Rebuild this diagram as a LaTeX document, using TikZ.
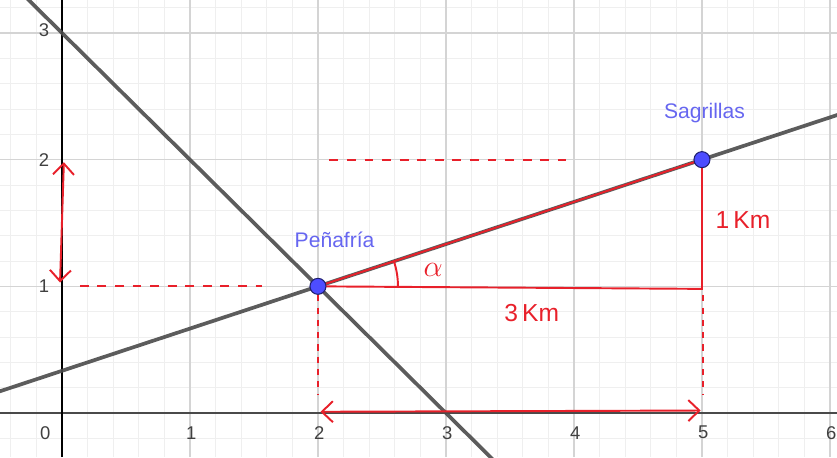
\documentclass[tikz,border=0pt]{standalone}
\usepackage{fontspec}
\setmainfont{Liberation Sans}
\usetikzlibrary{arrows.meta}
\definecolor{gridmaj}{HTML}{D4D4D4}
\definecolor{gridmin}{HTML}{EFEFEF}
\definecolor{lineg}{HTML}{4A4A4A}
\definecolor{hand}{HTML}{E8202A}
\definecolor{ptfill}{HTML}{4D4DFF}
\definecolor{ptdraw}{HTML}{202070}
\definecolor{lbl}{HTML}{6666F0}
\tikzset{
  minorgrid/.style={gridmin, line width=0.5pt},
  majorgrid/.style={gridmaj, line width=0.9pt},
  geoline/.style={lineg, line width=2.1pt, opacity=0.9},
  pt/.style={circle, fill=ptfill, draw=ptdraw, line width=0.6pt, minimum size=0.32cm, inner sep=0pt},
  ptlabel/.style={text=lbl, font=\fontsize{12}{14}\selectfont},
  tick/.style={text=black!75, font=\fontsize{10.5}{12}\selectfont},
  redline/.style={hand, line width=1.1pt, line cap=round},
  reddash/.style={hand, line width=1pt, dash pattern=on 5pt off 5pt},
  vdash/.style={hand, line width=1pt, dash pattern=on 3.5pt off 3.5pt},
  redarrow/.style={hand, line width=1.1pt, {Straight Barb[length=2.2mm,width=4.2mm]}-{Straight Barb[length=2.2mm,width=4.2mm]}},
  handtext/.style={text=hand, font=\fontsize{14}{16}\selectfont}
}
\begin{document}
\begin{tikzpicture}[x=2.56cm, y=2.534cm]
\useasboundingbox (-0.484,-0.347) rectangle (6.055,3.26);
\begin{scope}
\clip (-0.484,-0.347) rectangle (6.055,3.26);
% minor grid
\foreach \i in {-2,...,30} { \draw[minorgrid] (\i*0.2,-0.347) -- (\i*0.2,3.26); }
\foreach \j in {-1,...,16} { \draw[minorgrid] (-0.484,\j*0.2) -- (6.055,\j*0.2); }
% major grid
\foreach \i in {1,...,6} { \draw[majorgrid] (\i,-0.347) -- (\i,3.26); }
\foreach \j in {1,2,3} { \draw[majorgrid] (-0.484,\j) -- (6.055,\j); }
% axes
\coordinate (xl) at (-0.484,0); \coordinate (xr) at (6.055,0);
\coordinate (yb) at (0,-0.347); \coordinate (yt) at (0,3.26);
\draw[lineg, line width=1.3pt] (xl) -- (xr);
\draw[black, line width=1pt] (yb) -- (yt);
% lines
\coordinate (a1) at (-0.3,3.3); \coordinate (a2) at (3.4,-0.4);
\draw[geoline] (a1) -- (a2);
\coordinate (b1) at (-0.6,0.1333); \coordinate (b2) at (6.2,2.4);
\draw[geoline] (b1) -- (b2);
\end{scope}
% tick labels
\node[tick] (t0) at (-0.13,-0.155) {0};
\foreach \i in {1,...,6} { \node[tick] (t\i) at (\i+0.01,-0.155) {\i}; }
\node[tick] (u1) at (-0.14,1) {1};
\node[tick] (u2) at (-0.14,2) {2};
\node[tick] (u3) at (-0.14,3.02) {3};
% red annotations
\coordinate (P) at (2,1);
\coordinate (S) at (5,2);
\coordinate (C) at (5,0.98);
\draw[redline] (P) -- (S);
\draw[redline] (P) -- (C) -- (S);
\draw[redline] (P) ++(0:1.6cm) arc[start angle=0, end angle=18.3, radius=1.6cm];
\node[text=hand, font=\fontsize{18}{19}\selectfont] (alpha) at (2.9,1.13) {$\alpha$};
\node[handtext] (km3) at (3.67,0.79) {3\,Km};
\node[handtext] (km1) at (5.32,1.52) {1\,Km};
\coordinate (d1a) at (0.14,1); \coordinate (d1b) at (1.56,1);
\draw[reddash] (d1a) -- (d1b);
\coordinate (d2a) at (2.09,2); \coordinate (d2b) at (3.94,2);
\draw[reddash] (d2a) -- (d2b);
\coordinate (v1a) at (2,0.93); \coordinate (v1b) at (2,0.14);
\draw[vdash] (v1a) -- (v1b);
\coordinate (v2a) at (5.01,0.93); \coordinate (v2b) at (5.01,0.14);
\draw[vdash] (v2a) -- (v2b);
\coordinate (ya) at (-0.015,1.03); \coordinate (yb2) at (0.015,1.98);
\draw[redarrow] (ya) -- (yb2);
\coordinate (xa) at (2.02,0.01); \coordinate (xb) at (4.99,0.02);
\draw[redarrow] (xa) -- (xb);
% points
\node[pt] (pena) at (P) {};
\node[pt] (sagr) at (S) {};
\node[ptlabel] (penal) at (2.13,1.37) {Peñafría};
\node[ptlabel] (sagrl) at (5.02,2.37) {Sagrillas};
\end{tikzpicture}
\end{document}
